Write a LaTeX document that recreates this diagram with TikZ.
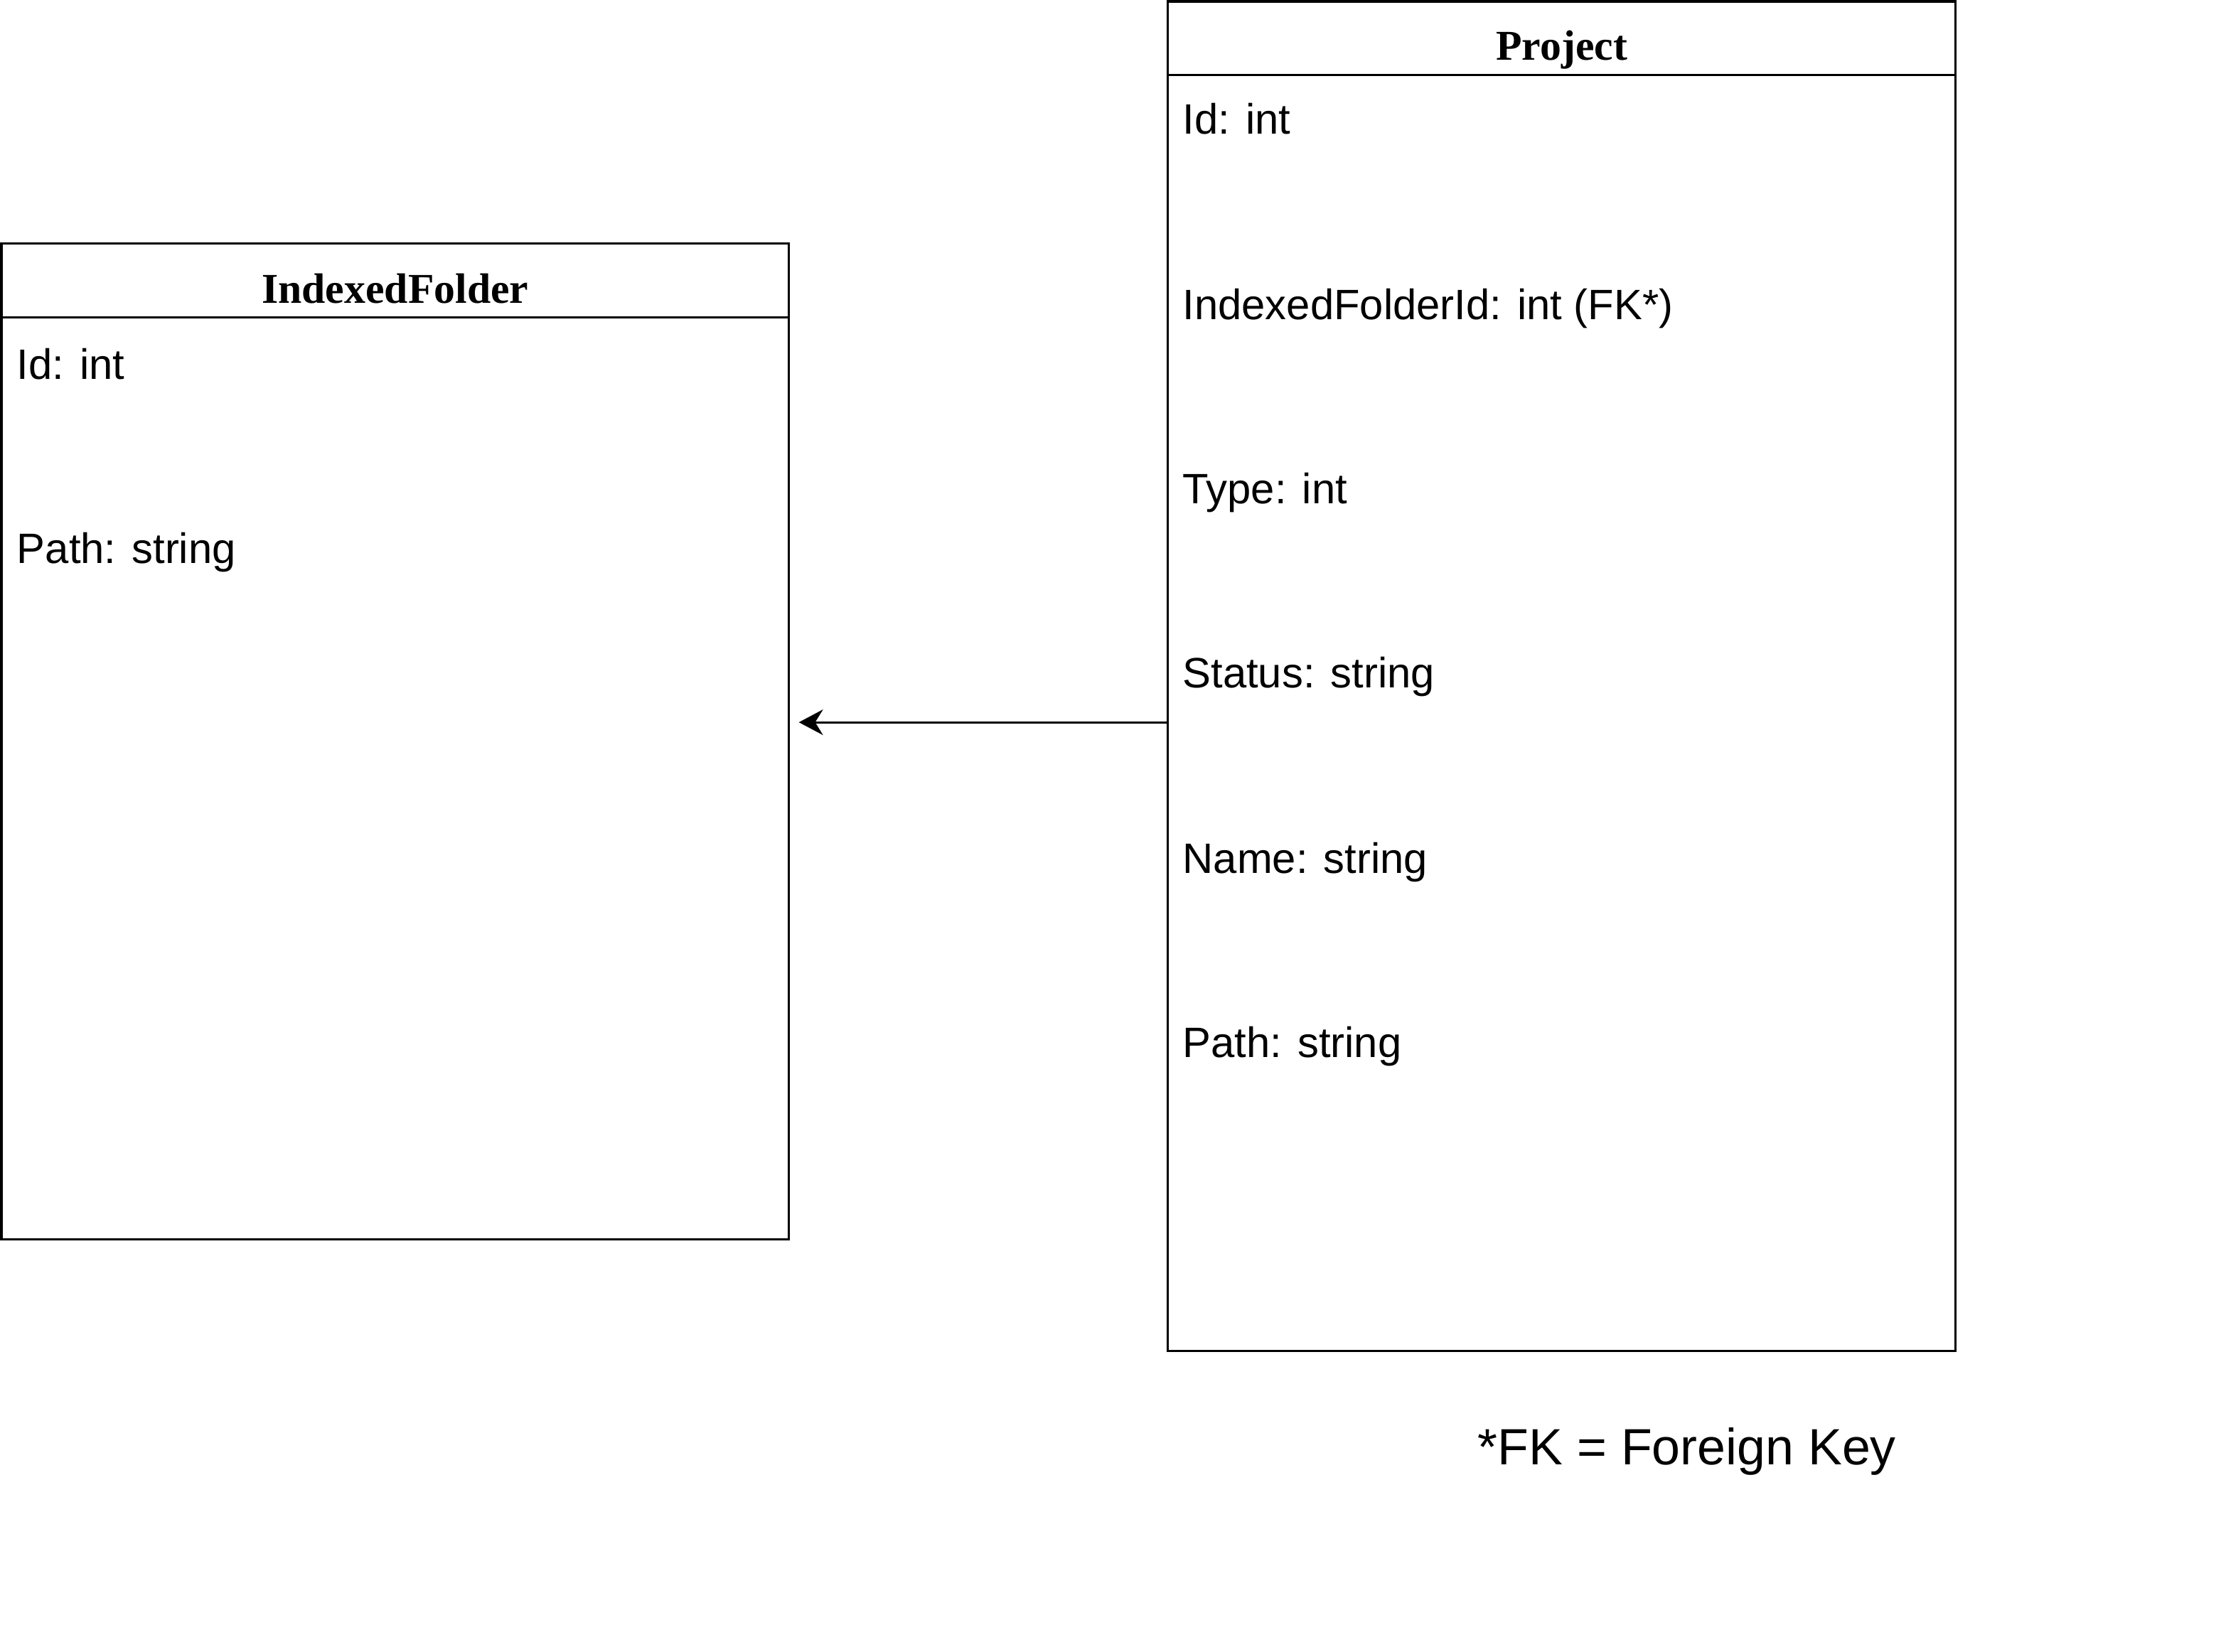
\documentclass[tikz,border=0pt]{standalone}
\usepackage{fontspec}
\setmainfont{Liberation Sans}
\newfontfamily\headfont{Liberation Serif}
\usetikzlibrary{arrows.meta}

\begin{document}
\begin{tikzpicture}[x=1pt, y=-1pt, every node/.style={inner sep=0pt, outer sep=0pt},
	entity/.style={rectangle, draw=black, line width=1.6pt, minimum width=556pt},
	head/.style={font=\headfont\bfseries\fontsize{30}{35}\selectfont},
	field/.style={anchor=west, font=\fontsize{30}{36}\selectfont}]
			\useasboundingbox (0,0) rectangle (1568,1166);
			
			\node[entity, minimum height=703pt] (folder) at (279,523.5){};
			\node[entity, minimum height=953pt] (project) at (1102.5,477.5){};
			\draw[line width=1.6pt] (folder.west |- 0,224) -- (folder.east |- 0,224);
			\draw[line width=1.6pt] (project.west |- 0,53) -- (project.east |- 0,53);
			
			\node[head] (folderhead) at (279,204){IndexedFolder};
			\node[head] (projecthead) at (1102.5,35){Project};
			
			\node[field] (fid) at (12,257){Id: int};
			\node[field] (fpath) at (12,390){Path: string};
			
			\node[field] (pid) at (835,84){Id: int};
			\node[field] (pfolder) at (835,218){IndexedFolderId: int (FK*)};
			\node[field] (ptype) at (835,348){Type: int};
			\node[field] (pstatus) at (835,478){Status: string};
			\node[field] (pname) at (835,609){Name: string};
			\node[field] (ppath) at (835,739){Path: string};
			
			\coordinate (fk) at (824,510);
			\draw[line width=1.6pt, -{Stealth[length=17pt, width=18pt]}, shorten >=7pt] (fk) -- (folder.east |- fk);
			
			\node[font=\fontsize{36}{43}\selectfont] (note) at (1191,1025){*FK = Foreign Key};
			\end{tikzpicture}
\end{document}
